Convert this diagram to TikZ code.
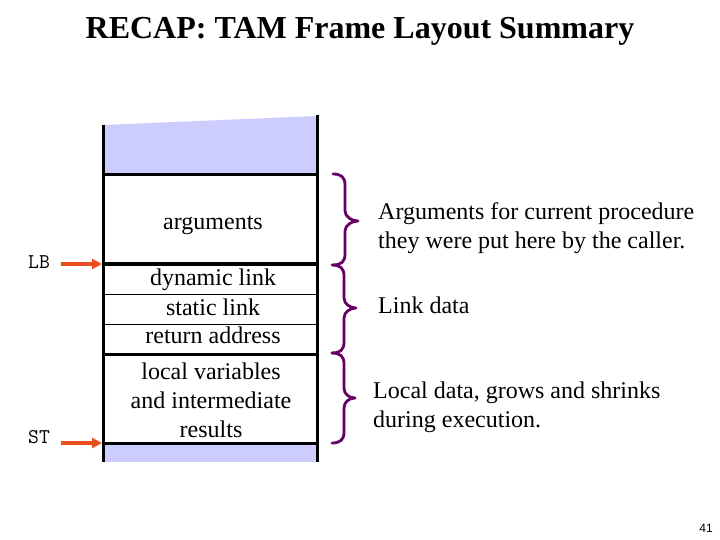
\documentclass[tikz,border=0pt]{standalone}
\usepackage{fontspec}
\setmainfont{Liberation Serif}
\newfontfamily\sansf{Liberation Sans}
\usetikzlibrary{arrows.meta}
\definecolor{stackblue}{RGB}{204,204,255}
\definecolor{ptrred}{RGB}{236,78,32}
\definecolor{bracepurple}{RGB}{102,0,102}
\newcommand\rcurly[5]{% top, mid, bottom, spine x, tip x
  \draw[bracestyle] (#4-12,#1) .. controls (#4-4,#1) and (#4,{#1+3}) .. (#4,{#1+11})
    -- (#4,{#2-10}) .. controls (#4,{#2-4}) and ({#5-6},#2) .. (#5,#2)
    .. controls ({#5-6},#2) and (#4,{#2+4}) .. (#4,{#2+10})
    -- (#4,{#3-11}) .. controls (#4,{#3-3}) and ({#4-4},#3) .. ({#4-12},#3);}
\begin{document}
\begin{tikzpicture}[x=1bp,y=-1bp,
  txt/.style={anchor=base,inner sep=0pt,font=\fontsize{24bp}{29bp}\selectfont},
  ltxt/.style={txt,anchor=base west},
  ptrlabel/.style={anchor=base west,inner sep=0pt,font=\ttfamily\fontsize{21bp}{24bp}\selectfont},
  thickline/.style={line width=3bp,black},
  thinline/.style={line width=1bp,black},
  ptr/.style={line width=3.2bp,ptrred,-{Triangle[length=10bp,width=10bp]}},
  bracestyle/.style={draw=bracepurple,line width=2.8bp,line cap=round,line join=round}]
\useasboundingbox (0,0) rectangle (720,540);
\fill[white] (0,0) rectangle (720,540);
% title
\node[anchor=base,inner sep=0pt,font=\bfseries\fontsize{32bp}{36bp}\selectfont] (title) at (360,39) {RECAP: TAM Frame Layout Summary};
% stack column
\fill[stackblue] (103,125) -- (317,116) -- (317,175) -- (103,175) -- cycle;
\fill[stackblue] (103,443) rectangle (317,462);
\draw[thickline] (103,175) -- (317,175);
\draw[thickline] (103,264) -- (317,264);
\draw[thinline] (103,294) -- (317,294);
\draw[thinline] (103,324) -- (317,324);
\draw[thickline] (103,354) -- (317,354);
\draw[thickline] (103,443) -- (317,443);
\draw[thickline] (103,125) -- (103,462);
\draw[thickline] (317,115) -- (317,462);
% cell texts
\node[txt] (args) at (213,230) {arguments};
\node[txt] (dyn) at (213,286) {dynamic link};
\node[txt] (stat) at (213,315) {static link};
\node[txt] (ret) at (213,343) {return address};
\node[txt] (loc1) at (211,379) {local variables};
\node[txt] (loc2) at (211,408) {and intermediate};
\node[txt] (loc3) at (211,437) {results};
% pointers
\node[ptrlabel] (LB) at (28,269) {LB};
\node[ptrlabel] (ST) at (28,443) {ST};
\coordinate (lbhit) at (102,264);
\coordinate (sthit) at (102,443);
\draw[ptr] (61,264) -- (lbhit);
\draw[ptr] (61,443) -- (sthit);
% braces
\rcurly{174}{221}{265}{345}{358}
\rcurly{265}{308}{353}{344}{356}
\rcurly{353}{398}{443}{344}{355}
% descriptions
\node[ltxt] (d1a) at (378,220) {Arguments for current procedure};
\node[ltxt] (d1b) at (378,249) {they were put here by the caller.};
\node[ltxt] (d2) at (378,313) {Link data};
\node[ltxt] (d3a) at (373,398) {Local data, grows and shrinks};
\node[ltxt] (d3b) at (373,427) {during execution.};
% page number
\node[anchor=base,inner sep=0pt,font=\sansf\fontsize{12bp}{14bp}\selectfont] (pg) at (706,532) {41};
\end{tikzpicture}
\end{document}
